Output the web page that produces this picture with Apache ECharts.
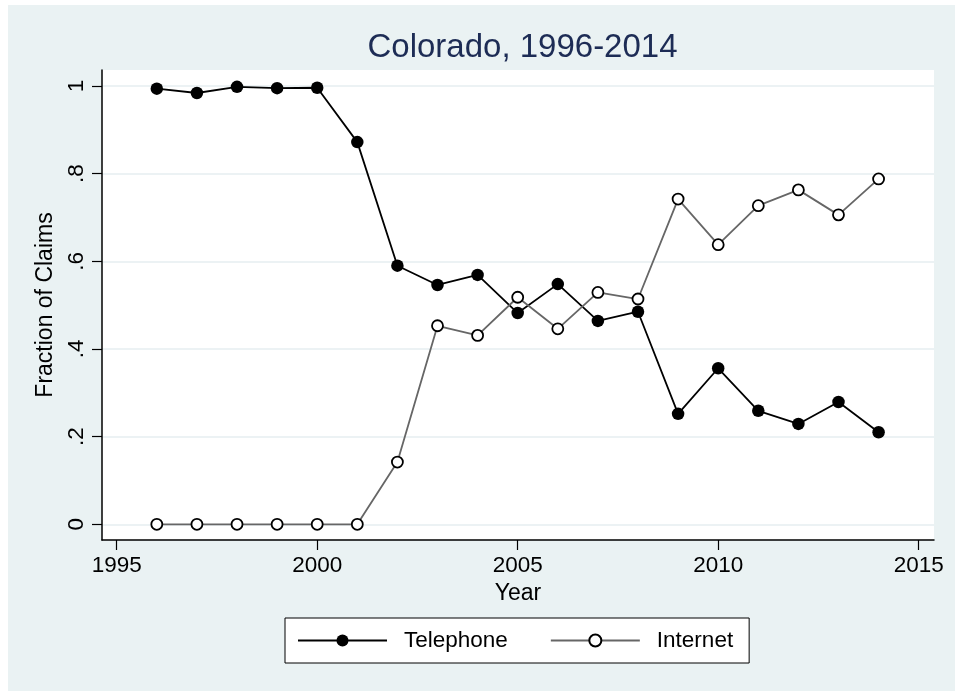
<!DOCTYPE html>
<html>
<head>
<meta charset="utf-8">
<script src="https://cdn.jsdelivr.net/npm/echarts@6/dist/echarts.min.js"></script>
<style>
html,body{margin:0;padding:0;background:#fff;width:955px;height:691px;overflow:hidden;}
#chart{position:absolute;left:8px;top:5px;width:947px;height:686px;}
</style>
</head>
<body>
<div id="chart"></div>
<script>
const years = [1996,1997,1998,1999,2000,2001,2002,2003,2004,2005,2006,2007,2008,2009,2010,2011,2012,2013,2014];
const telephone = [0.994,0.984,0.998,0.995,0.996,0.872,0.590,0.546,0.569,0.482,0.548,0.464,0.485,0.252,0.356,0.259,0.229,0.279,0.210];
const internet = [0,0,0,0,0,0,0.142,0.453,0.431,0.518,0.446,0.529,0.514,0.742,0.638,0.727,0.763,0.706,0.788];
const xTickValues = [1995,2000,2005,2010,2015];
const xTickLabels = ['1995','2000','2005','2010','2015'];
const yTickValues = [0,0.2,0.4,0.6,0.8,1];
const yTickLabels = ['0','.2','.4','.6','.8','1'];
const seriesNames = ['Telephone','Internet'];

const FONT = '"Liberation Sans", Arial, Helvetica, sans-serif';
const chart = echarts.init(document.getElementById('chart'));
const pair = (ys) => years.map((y,i)=>[y, ys[i]]);
const lookup = (vals, labels) => function (v) {
  for (let i = 0; i < vals.length; i++) if (Math.abs(v - vals[i]) < 1e-6) return labels[i];
  return '';
};

chart.setOption({
  animation: false,
  backgroundColor: '#EAF2F3',
  title: {
    text: 'Colorado, 1996-2014',
    left: 509.5, top: 21, textAlign: 'center', padding: 5,
    textStyle: {fontFamily: FONT, fontSize: 33, fontWeight: 'normal', color: '#1d2c55'}
  },
  grid: {left: 94, right: 21, top: 65, bottom: 151, show: true, backgroundColor: '#fff', borderWidth: 0},
  legend: {
    data: seriesNames,
    left: 277, top: 613,
    orient: 'horizontal',
    itemWidth: 89, itemHeight: 15, itemGap: 42,
    padding: [11, 16, 11, 12],
    backgroundColor: '#fff', borderColor: '#000', borderWidth: 1, borderRadius: 0,
    textStyle: {fontFamily: FONT, fontSize: 22.5, color: '#000', padding: [0,0,0,12]}
  },
  xAxis: {
    type: 'value', min: 1994.633, max: 2015.382,
    name: 'Year', nameLocation: 'middle', nameGap: 39.5,
    nameTextStyle: {fontFamily: FONT, fontSize: 23, color: '#000'},
    axisLine: {show: true, onZero: false, lineStyle: {color: '#000', width: 1.5}},
    axisTick: {show: true, length: 10, customValues: xTickValues, lineStyle: {color: '#000', width: 1.2}},
    axisLabel: {customValues: xTickValues, margin: 14, fontFamily: FONT, fontSize: 22.5, color: '#000',
      formatter: lookup(xTickValues, xTickLabels)},
    splitLine: {show: false}
  },
  yAxis: {
    type: 'value', min: -0.0358, max: 1.0365,
    name: 'Fraction of Claims', nameLocation: 'middle', nameGap: 42.5,
    nameTextStyle: {fontFamily: FONT, fontSize: 23, color: '#000'},
    axisLine: {show: true, onZero: false, lineStyle: {color: '#000', width: 1.5}},
    axisTick: {show: true, length: 10, customValues: yTickValues, lineStyle: {color: '#000', width: 1.2}},
    axisLabel: {
      customValues: yTickValues, rotate: 90, margin: 14,
      fontFamily: FONT, fontSize: 22.5, color: '#000',
      formatter: lookup(yTickValues, yTickLabels)
    },
    splitLine: {show: true, lineStyle: {color: '#E6EEF0', width: 1.5}}
  },
  series: [
    {
      name: seriesNames[0], type: 'line', data: pair(telephone),
      symbol: 'circle', symbolSize: 12.5,
      itemStyle: {color: '#000', borderWidth: 0},
      lineStyle: {color: '#000', width: 1.8}
    },
    {
      name: seriesNames[1], type: 'line', data: pair(internet),
      symbol: 'circle', symbolSize: 11,
      itemStyle: {color: '#fff', borderColor: '#000', borderWidth: 1.8},
      lineStyle: {color: '#666', width: 1.8}
    }
  ]
});
</script>
</body>
</html>
